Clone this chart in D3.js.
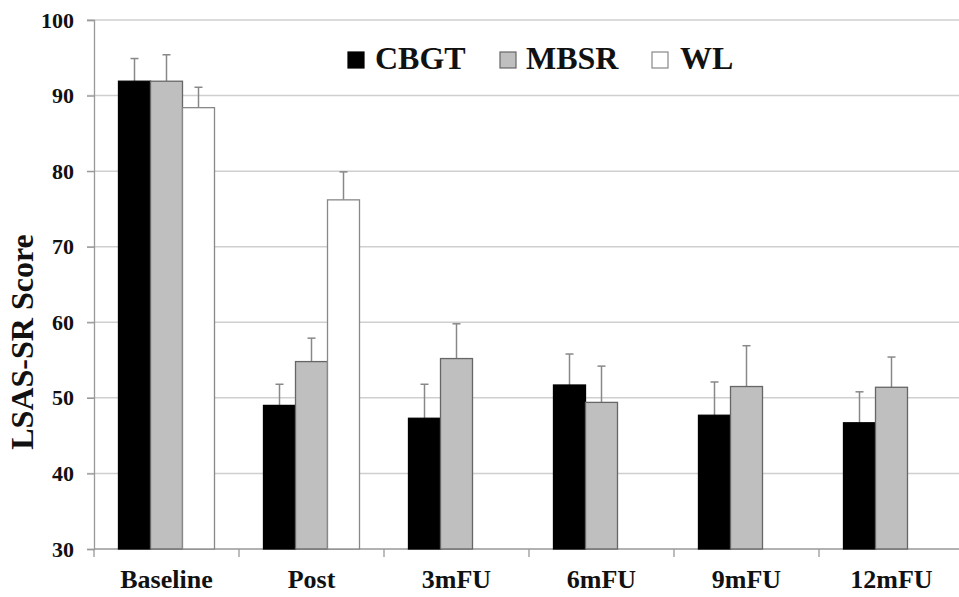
<!DOCTYPE html>
<html>
<head>
<meta charset="utf-8">
<script src="https://cdn.jsdelivr.net/npm/d3@7"></script>
<style>
  body { margin: 0; background: #fff; }
  text { font-family: "Liberation Serif", "Times New Roman", serif; font-weight: bold; fill: #111; }
</style>
</head>
<body>
<div id="chart"></div>
<script>
// values
var categories = ["Baseline", "Post", "3mFU", "6mFU", "9mFU", "12mFU"];
var groups = ["CBGT", "MBSR", "WL"];
var cbgt = [91.9, 49.0, 47.3, 51.7, 47.7, 46.7];
var mbsr = [91.9, 54.8, 55.2, 49.4, 51.5, 51.4];
var wl = [88.4, 76.2, null, null, null, null];
var cbgtErr = [94.9, 51.8, 51.8, 55.8, 52.1, 50.8];
var mbsrErr = [95.4, 57.9, 59.8, 54.2, 56.9, 55.4];
var wlErr = [91.1, 79.9, null, null, null, null];
var yTicks = [30, 40, 50, 60, 70, 80, 90, 100];

var fills = { CBGT: "#000", MBSR: "#bfbfbf", WL: "#fff" };
var strokes = { CBGT: "#000", MBSR: "#666", WL: "#888" };

function drawChart() {
  var W = 959, H = 597;
  var pLeft = 94, pTop = 20, pRight = 964, pBottom = 549;

  var svg = d3.select("#chart").append("svg")
    .attr("width", W).attr("height", H);

  var x = d3.scaleBand().domain(categories).range([pLeft, pRight]);
  var xs = d3.scaleBand().domain(groups).range([0, 96]);
  var y = d3.scaleLinear().domain([30, 100]).range([pBottom, pTop]);

  // gridlines
  svg.append("g").selectAll("line").data(yTicks.slice(1)).enter().append("line")
    .attr("x1", pLeft - 7).attr("x2", pRight)
    .attr("y1", function(d) { return y(d); }).attr("y2", function(d) { return y(d); })
    .style("stroke", "#cfcfcf").style("stroke-width", 1.5);

  // axes
  var yAxis = svg.append("g").attr("transform", "translate(" + pLeft + ",0)")
    .call(d3.axisLeft(y).tickValues(yTicks).tickSize(7).tickPadding(13))
    .attr("font-family", "Liberation Serif").attr("font-size", 22).attr("font-weight", "bold");
  yAxis.select(".domain").style("stroke", "#999").style("stroke-width", 1.3);
  yAxis.selectAll(".tick line").style("stroke", "#999").style("stroke-width", 1.3);
  yAxis.selectAll(".tick text").style("font-size", "22px")
    .style("font-family", "Liberation Serif").style("font-weight", "bold").style("fill", "#111");

  svg.append("line").attr("x1", pLeft).attr("x2", pRight).attr("y1", pBottom).attr("y2", pBottom)
    .style("stroke", "#999").style("stroke-width", 1.3);
  svg.append("g").selectAll("line").data(categories).enter().append("line")
    .attr("x1", function(d) { return x(d); }).attr("x2", function(d) { return x(d); })
    .attr("y1", pBottom).attr("y2", pBottom + 8)
    .style("stroke", "#999").style("stroke-width", 1.3);

  svg.append("g").selectAll("text").data(categories).enter().append("text")
    .attr("x", function(d) { return x(d) + x.bandwidth() / 2; })
    .attr("y", 588)
    .attr("text-anchor", "middle")
    .style("font-size", "26px")
    .text(function(d) { return d; });

  // bars + one-sided error bars
  var series = [
    { name: "CBGT", vals: cbgt, err: cbgtErr },
    { name: "MBSR", vals: mbsr, err: mbsrErr },
    { name: "WL", vals: wl, err: wlErr }
  ];
  var offset = (x.bandwidth() - 96) / 2;
  function cx(d, s) { return x(d.c) + offset + xs(s) + xs.bandwidth() / 2; }

  series.forEach(function(s) {
    var data = categories.map(function(c, i) { return { c: c, v: s.vals[i], e: s.err[i] }; })
      .filter(function(d) { return d.v != null; });
    var g = svg.append("g");
    g.selectAll(".whisker").data(data).enter().append("line")
      .attr("x1", function(d) { return cx(d, s.name); })
      .attr("x2", function(d) { return cx(d, s.name); })
      .attr("y1", function(d) { return y(d.v); })
      .attr("y2", function(d) { return y(d.e); })
      .style("stroke", "#888").style("stroke-width", 1.5);
    g.selectAll(".cap").data(data).enter().append("line")
      .attr("x1", function(d) { return cx(d, s.name) - 4; })
      .attr("x2", function(d) { return cx(d, s.name) + 4; })
      .attr("y1", function(d) { return y(d.e); })
      .attr("y2", function(d) { return y(d.e); })
      .style("stroke", "#888").style("stroke-width", 1.5);
    g.selectAll("rect").data(data).enter().append("rect")
      .attr("x", function(d) { return x(d.c) + offset + xs(s.name); })
      .attr("y", function(d) { return y(d.v); })
      .attr("width", xs.bandwidth())
      .attr("height", function(d) { return pBottom - y(d.v); })
      .style("fill", fills[s.name])
      .style("stroke", strokes[s.name]).style("stroke-width", 1.3);
  });

  // y title
  svg.append("text")
    .attr("transform", "translate(33,342) rotate(-90)")
    .attr("text-anchor", "middle")
    .style("font-size", "32px")
    .text("LSAS-SR Score");

  // legend
  var legendPos = [
    { name: "CBGT", sx: 348, tx: 375 },
    { name: "MBSR", sx: 500, tx: 526 },
    { name: "WL", sx: 652, tx: 680 }
  ];
  var legend = svg.append("g").selectAll("g").data(legendPos).enter().append("g");
  legend.append("rect")
    .attr("x", function(d) { return d.sx; }).attr("y", 52)
    .attr("width", 16).attr("height", 16)
    .style("fill", function(d) { return fills[d.name]; })
    .style("stroke", function(d) { return strokes[d.name]; }).style("stroke-width", 1.2);
  legend.append("text")
    .attr("x", function(d) { return d.tx; }).attr("y", 69)
    .style("font-size", "32px")
    .text(function(d) { return d.name; });
}

drawChart();
</script>
</body>
</html>
